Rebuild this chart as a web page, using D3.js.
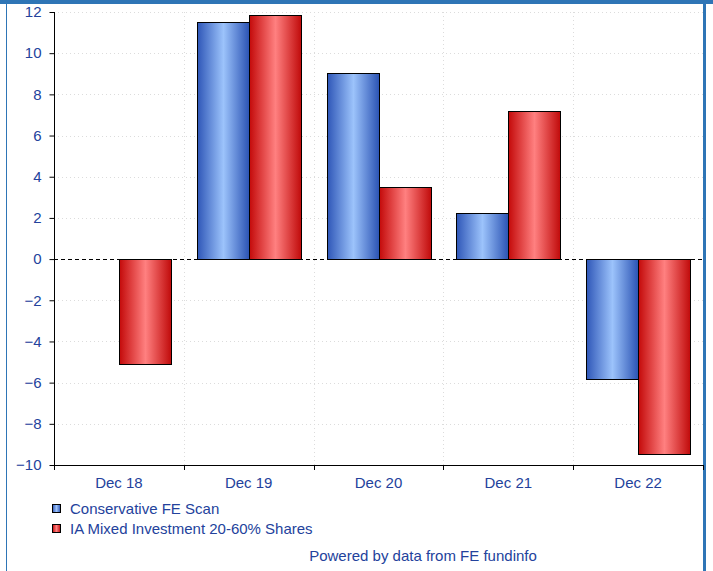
<!DOCTYPE html>
<html><head><meta charset="utf-8">
<script src="https://cdn.jsdelivr.net/npm/d3@7"></script>
<style>
html,body{margin:0;padding:0;background:#fff;}
svg{display:block;font-family:"Liberation Sans",Arial,sans-serif;}
</style></head>
<body>
<svg id="c" width="713" height="571"></svg>
<script>
const categories = ["Dec 18","Dec 19","Dec 20","Dec 21","Dec 22"];
const seriesNames = ["Conservative FE Scan","IA Mixed Investment 20-60% Shares"];
const conservative = [null, 11.5, 9.05, 2.25, -5.85];
const iaMixed = [-5.1, 11.85, 3.5, 7.2, -9.45];
const yTicks = [12,10,8,6,4,2,0,-2,-4,-6,-8,-10];
const footer = "Powered by data from FE fundinfo";

const svg = d3.select("#c");
const textColor = "#23429c";
const FS = "15px";
const M = {left:54, right:703, top:12, bottom:465};

const x = d3.scaleBand().domain(categories).range([M.left, M.right]).paddingInner(0).paddingOuter(0);
const x1 = d3.scaleBand().domain([0,1]).range([0, x.bandwidth()]).paddingInner(0).paddingOuter(0.25);
const y = d3.scaleLinear().domain([-10,12]).range([M.bottom, M.top]);

// gradients
const defs = svg.append("defs");
function grad(id, stops){
  const g = defs.append("linearGradient").attr("id", id).attr("x1","0%").attr("x2","100%").attr("y1","0%").attr("y2","0%");
  stops.forEach(s=>g.append("stop").attr("offset",s[0]).attr("stop-color",s[1]));
}
grad("gBlue", [["0%","#2f57b8"],["50%","#9cc3fb"],["100%","#2a52b3"]]);
grad("gRed", [["0%","#c40a0a"],["50%","#ff8080"],["100%","#c00a0a"]]);

// frame
svg.append("rect").attr("x",0).attr("y",0).attr("width",713).attr("height",4).attr("fill","#2e75b6");
svg.append("rect").attr("x",6).attr("y",4).attr("width",1).attr("height",567).attr("fill","#2e75b6");
svg.append("rect").attr("x",703).attr("y",4).attr("width",3).attr("height",567).attr("fill","#2e75b6");

// gridlines
const grid = svg.append("g");
grid.selectAll("line.h").data(yTicks.filter(d=>d!==0 && d!==-10)).join("line")
  .attr("x1",M.left).attr("x2",M.right).attr("y1",d=>Math.round(y(d))+0.5).attr("y2",d=>Math.round(y(d))+0.5)
  .attr("stroke","#dcdcdc").attr("stroke-dasharray","1,3");
grid.selectAll("line.v").data(categories.slice(1)).join("line")
  .attr("x1",d=>Math.round(x(d))+0.5).attr("x2",d=>Math.round(x(d))+0.5).attr("y1",M.top).attr("y2",M.bottom)
  .attr("stroke","#dcdcdc").attr("stroke-dasharray","1,3");

// bars
const series = [conservative, iaMixed];
const fills = ["url(#gBlue)","url(#gRed)"];
series.forEach((vals, si)=>{
  svg.append("g").selectAll("rect").data(categories.map((c,i)=>({c, v: vals[i]})).filter(d=>d.v!==null)).join("rect")
    .attr("x", d=>Math.round(x(d.c)+x1(si))+0.5)
    .attr("width", Math.round(x1.bandwidth()))
    .attr("y", d=>Math.round(y(Math.max(0,d.v)))+0.5)
    .attr("height", d=>Math.round(Math.abs(y(d.v)-y(0))))
    .attr("fill", fills[si]).attr("stroke","#000").attr("stroke-width",1);
});

// zero line
svg.append("line").attr("x1",M.left).attr("x2",M.right).attr("y1",Math.round(y(0))+0.5).attr("y2",Math.round(y(0))+0.5)
  .attr("stroke","#000").attr("stroke-dasharray","4,3");

// y axis
const yAxis = svg.append("g").attr("transform",`translate(${M.left+0.5},0)`)
  .call(d3.axisLeft(y).tickValues(yTicks).tickSize(5).tickPadding(8).tickFormat(d3.format("d")));
yAxis.select(".domain").attr("stroke","#000").attr("d",`M0,${M.top}V${M.bottom}`);
yAxis.selectAll(".tick line").attr("stroke","#000");
yAxis.selectAll("text").attr("fill",textColor).attr("font-size",FS).attr("font-family","Liberation Sans, Arial, sans-serif");

// x axis
const xAxis = svg.append("g").attr("transform",`translate(0,${M.bottom+0.5})`)
  .call(d3.axisBottom(x).tickSize(0).tickPadding(12));
xAxis.select(".domain").attr("stroke","#000").attr("d",`M${M.left},0H${M.right}`);
xAxis.selectAll("text").attr("fill",textColor).attr("font-size",FS).attr("font-family","Liberation Sans, Arial, sans-serif");
const bounds = categories.map(c=>x(c)).concat([M.right]);
svg.append("g").selectAll("line").data(bounds).join("line")
  .attr("x1",d=>Math.round(d)+0.5).attr("x2",d=>Math.round(d)+0.5)
  .attr("y1",M.bottom).attr("y2",M.bottom+5).attr("stroke","#000");

// legend
const leg = svg.append("g");
const legFills = ["url(#gBlue)","url(#gRed)"];
seriesNames.forEach((n,i)=>{
  const yy = 504 + i*20;
  leg.append("rect").attr("x",52.5).attr("y",yy+0.5).attr("width",8).attr("height",8)
    .attr("fill",legFills[i]).attr("stroke","#000");
  leg.append("text").attr("x",70).attr("y",yy+10).text(n)
    .attr("fill",textColor).attr("font-size",FS);
});

svg.append("text").attr("x",423).attr("y",561).attr("text-anchor","middle").text(footer)
  .attr("fill",textColor).attr("font-size",FS);
</script>
</body></html>
